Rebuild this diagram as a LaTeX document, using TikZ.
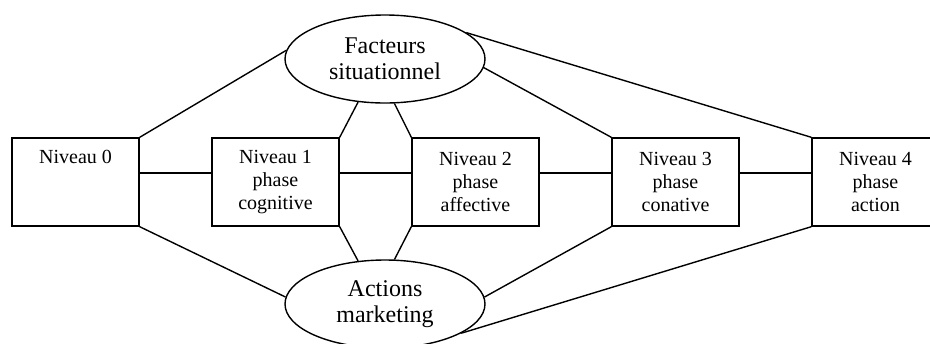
\documentclass[tikz,border=0pt]{standalone}
\usepackage{fontspec}
\setmainfont{Liberation Serif}
\usetikzlibrary{positioning,shapes.geometric}

\begin{document}
\begin{tikzpicture}[x=0.5pt,y=-0.5pt,line width=0.7pt,
		niveau/.style={draw,rectangle,minimum width=63.5pt,minimum height=44pt,inner sep=0pt,align=center,font=\fontsize{10}{11.5}\selectfont},
		facteur/.style={draw,ellipse,minimum width=100pt,minimum height=44pt,inner sep=0pt,align=center,font=\fontsize{12}{13}\selectfont}]
			\useasboundingbox (0,0) rectangle (930,343);
			
			\node[niveau] (n0) at (75.5,182) {};
			\node[anchor=base,inner sep=0pt,font=\fontsize{10}{11.5}\selectfont] (t0) at ([yshift=-13pt]n0.north) {Niveau 0};
			\node[niveau] (n1) at (275.5,182) {Niveau 1\\phase\\cognitive};
			\node[niveau] (n2) at (475.5,182) {Niveau 2\\phase\\affective};
			\node[niveau] (n3) at (675.5,182) {Niveau 3\\phase\\conative};
			\node[niveau] (n4) at (875.5,182) {Niveau 4\\phase\\action};
			
			\node[facteur] (fs) at (385,59) {Facteurs\\situationnel};
			\node[facteur] (am) at (385,304) {Actions\\marketing};
			
			\foreach \a/\b in {n0/n1,n1/n2,n2/n3,n3/n4} {
				\draw ([yshift=4.5pt]\a.east) -- ([yshift=4.5pt]\b.west);
			}
			
			\draw (n0.north east) -- (fs.175);
			\draw (n1.north east) -- (fs.238);
			\draw (n2.north west) -- (fs.282);
			\draw (n3.north west) -- (fs.355);
			\draw (n4.north west) -- (fs.18);
			
			\draw (n0.south east) -- (am.176);
			\draw (n1.south east) -- (am.122);
			\draw (n2.south west) -- (am.78);
			\draw (n3.south west) -- (am.4);
			\draw (n4.south west) -- (am.339);
		\end{tikzpicture}
\end{document}
